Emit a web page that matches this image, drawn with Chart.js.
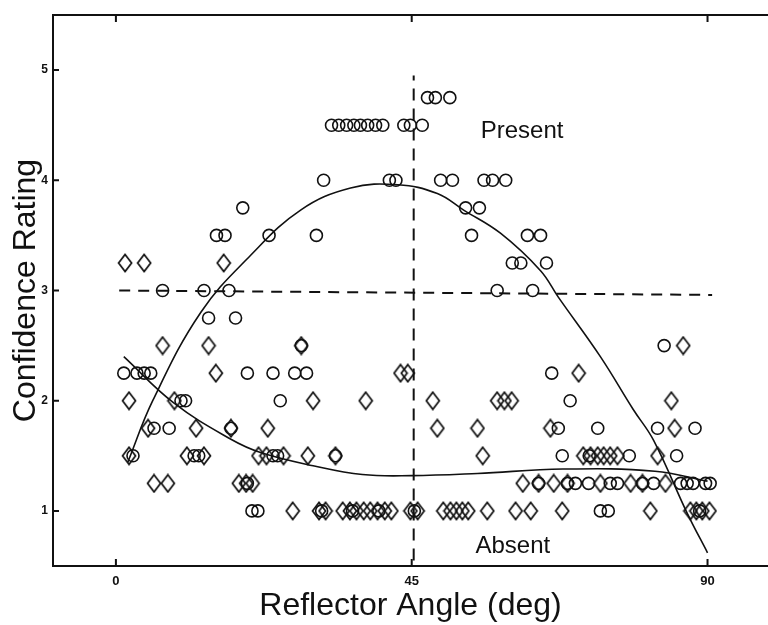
<!DOCTYPE html>
<html>
<head>
<meta charset="utf-8">
<script src="https://cdn.jsdelivr.net/npm/chart.js@4.4.0/dist/chart.umd.min.js"></script>
<style>
  html, body { margin: 0; padding: 0; background: #fff; }
  #wrap { width: 768px; height: 625px; }
</style>
</head>
<body>
<div id="wrap"><canvas id="chart" width="768" height="625"></canvas></div>
<script>
// "Present" trials (circles): one list of reflector angles per rating level
const presentRatings = [4.75, 4.5, 4, 3.75, 3.5, 3.25, 3, 2.75, 2.5, 2.25, 2, 1.75, 1.5, 1.25, 1];
const presentAngles = [
  [47.4, 48.6, 50.8],
  [32.8, 33.9, 35.1, 36.2, 37.2, 38.3, 39.5, 40.6, 43.8, 44.8, 46.6],
  [31.6, 41.6, 42.6, 49.4, 51.2, 56.0, 57.3, 59.3],
  [19.3, 53.2, 55.3],
  [15.3, 16.6, 23.3, 30.5, 54.1, 62.6, 64.6],
  [60.3, 61.6, 65.5],
  [7.1, 13.4, 17.2, 58.0, 63.4],
  [14.1, 18.2],
  [28.2, 83.4],
  [1.2, 3.2, 4.3, 5.3, 20.0, 23.9, 27.2, 29.0, 66.3],
  [9.9, 10.6, 25.0, 69.1],
  [5.8, 8.1, 17.5, 67.3, 73.3, 82.4, 88.1],
  [2.6, 11.9, 12.6, 23.9, 24.6, 33.4, 67.9, 72.0, 78.1, 85.3],
  [20.0, 64.3, 68.7, 69.9, 71.9, 75.2, 76.3, 80.1, 81.8, 85.9, 86.9, 87.8, 89.7, 90.4],
  [20.7, 21.6, 31.3, 36.0, 40.0, 45.4, 73.7, 74.9, 88.8]
];

// "Absent" trials (diamonds)
const absentRatings = [3.25, 2.5, 2.25, 2, 1.75, 1.5, 1.25, 1];
const absentAngles = [
  [1.4, 4.3, 16.4],
  [7.1, 14.1, 28.2, 86.3],
  [15.2, 43.3, 44.4, 70.4],
  [2.0, 8.9, 30.0, 38.0, 48.2, 58.0, 59.1, 60.2, 84.5],
  [4.9, 12.2, 17.5, 23.1, 48.9, 55.0, 66.1, 85.0],
  [2.0, 10.8, 13.4, 21.7, 22.9, 25.5, 29.2, 33.4, 55.8, 71.1, 72.2, 73.3, 74.2, 75.2, 76.3, 82.4],
  [5.8, 7.9, 18.7, 19.8, 20.8, 61.9, 64.3, 66.6, 68.7, 73.7, 78.3, 80.1, 83.6],
  [26.9, 30.9, 31.9, 34.5, 35.6, 36.6, 37.7, 38.7, 39.8, 40.9, 41.9, 44.8, 45.9, 49.8, 50.9,
   51.8, 52.7, 53.6, 56.5, 60.8, 63.1, 67.9, 81.3, 87.4, 88.3, 89.2, 90.3]
];

// fitted curves
const presentFitAngle = [1.8, 5.6, 12.9, 20.5, 28.1, 35.7, 42.9, 48.9, 52.9, 58.5, 64.6, 67.3, 73.7, 78.7, 81.8, 86.9, 90];
const presentFitRating = [1.44, 2.0, 2.8, 3.32, 3.73, 3.93, 3.96, 3.88, 3.73, 3.52, 3.18, 2.94, 2.4, 1.92, 1.64, 0.98, 0.62];
const absentFitAngle = [1.2, 8.8, 17.5, 22, 30, 37.5, 45, 55, 68, 82, 90];
const absentFitRating = [2.4, 1.98, 1.65, 1.53, 1.41, 1.33, 1.32, 1.34, 1.38, 1.36, 1.27];

// dashed reference lines
const vRefAngle = [45.3, 45.3];
const vRefRating = [0.55, 4.95];
const hRefAngle = [0.5, 90.7];
const hRefRating = [3.0, 2.96];

const curveLabels = ['Present', 'Absent'];
const labelAngle = [55.5, 54.7];
const labelRating = [4.38, 0.62];

const xTicks = [0, 45, 90];
const yTicks = [1, 2, 3, 4, 5];

const INK = '#111';
const FONT = '"Liberation Sans", Arial, Helvetica, sans-serif';

const toPoints = (ratings, angles) =>
  ratings.flatMap((r, i) => angles[i].map(a => ({ x: a, y: r })));
const pairUp = (xs, ys) => xs.map((v, i) => ({ x: v, y: ys[i] }));

// tall open diamond marker
const makeDiamond = () => {
  const c = document.createElement('canvas');
  c.width = 16; c.height = 20;
  const g = c.getContext('2d');
  g.strokeStyle = INK;
  g.lineWidth = 1.7;
  g.beginPath();
  g.moveTo(8, 1.5); g.lineTo(14.5, 10); g.lineTo(8, 18.5); g.lineTo(1.5, 10);
  g.closePath();
  g.stroke();
  return c;
};

// top frame line, inward tick marks and the curve labels
const frameMarks = {
  id: 'frameMarks',
  afterDatasetsDraw(chart) {
    const { ctx, chartArea: a, scales: { x, y } } = chart;
    ctx.save();
    ctx.strokeStyle = INK;
    ctx.lineWidth = 2;
    ctx.beginPath();
    ctx.moveTo(a.left - 1, a.top);
    ctx.lineTo(a.right, a.top);
    xTicks.forEach(v => {
      const px = x.getPixelForValue(v);
      ctx.moveTo(px, a.bottom); ctx.lineTo(px, a.bottom - 7);
      ctx.moveTo(px, a.top); ctx.lineTo(px, a.top + 7);
    });
    yTicks.forEach(v => {
      const py = y.getPixelForValue(v);
      ctx.moveTo(a.left, py); ctx.lineTo(a.left + 6, py);
    });
    ctx.stroke();

    ctx.fillStyle = INK;
    ctx.font = '24px ' + FONT;
    ctx.textAlign = 'left';
    ctx.textBaseline = 'alphabetic';
    curveLabels.forEach((t, i) => {
      ctx.fillText(t, x.getPixelForValue(labelAngle[i]), y.getPixelForValue(labelRating[i]));
    });
    ctx.restore();
  }
};

const lineSet = (data, dash) => ({
  type: 'line',
  data,
  showLine: true,
  borderColor: INK,
  borderWidth: dash ? 2 : 1.6,
  borderDash: dash || [],
  tension: dash ? 0 : 0.4,
  pointRadius: 0,
  fill: false
});

new Chart(document.getElementById('chart'), {
  type: 'scatter',
  data: {
    datasets: [
      lineSet(pairUp(presentFitAngle, presentFitRating)),
      lineSet(pairUp(absentFitAngle, absentFitRating)),
      lineSet(pairUp(vRefAngle, vRefRating), [12, 8]),
      lineSet(pairUp(hRefAngle, hRefRating), [11, 8]),
      {
        label: 'Present',
        data: toPoints(presentRatings, presentAngles),
        pointStyle: 'circle',
        pointRadius: 6,
        borderWidth: 1.6,
        borderColor: INK,
        backgroundColor: 'rgba(0,0,0,0)'
      },
      {
        label: 'Absent',
        data: toPoints(absentRatings, absentAngles),
        pointStyle: makeDiamond(),
        pointRadius: 8,
        borderColor: INK
      }
    ]
  },
  options: {
    responsive: false,
    animation: false,
    devicePixelRatio: 1,
    layout: { autoPadding: false, padding: { top: 15, right: 0, left: 0, bottom: 0 } },
    plugins: { legend: { display: false }, tooltip: { enabled: false } },
    scales: {
      x: {
        type: 'linear',
        min: -9.57,
        max: 99.2,
        afterBuildTicks: s => { s.ticks = xTicks.map(v => ({ value: v })); },
        afterFit: s => { s.height = 59; s.paddingLeft = 0; s.paddingRight = 0; },
        grid: { display: false, drawTicks: false },
        border: { display: true, color: INK, width: 2 },
        ticks: {
          color: INK,
          padding: 8,
          maxRotation: 0,
          autoSkip: false,
          font: { family: FONT, size: 13, weight: 'bold' }
        },
        title: {
          display: true,
          text: 'Reflector Angle (deg)',
          color: INK,
          padding: 0,
          font: { family: FONT, size: 32 }
        }
      },
      y: {
        type: 'linear',
        min: 0.5,
        max: 5.5,
        afterBuildTicks: s => { s.ticks = yTicks.map(v => ({ value: v })); },
        afterFit: s => { s.width = 53; s.paddingTop = 0; s.paddingBottom = 0; },
        grid: { display: false, drawTicks: false },
        border: { display: true, color: INK, width: 2 },
        ticks: {
          color: INK,
          padding: 5,
          font: { family: FONT, size: 12, weight: 'bold' }
        },
        title: {
          display: true,
          text: 'Confidence Rating',
          color: INK,
          padding: { top: 7, bottom: 0 },
          font: { family: FONT, size: 32 }
        }
      }
    }
  },
  plugins: [frameMarks]
});
</script>
</body>
</html>
